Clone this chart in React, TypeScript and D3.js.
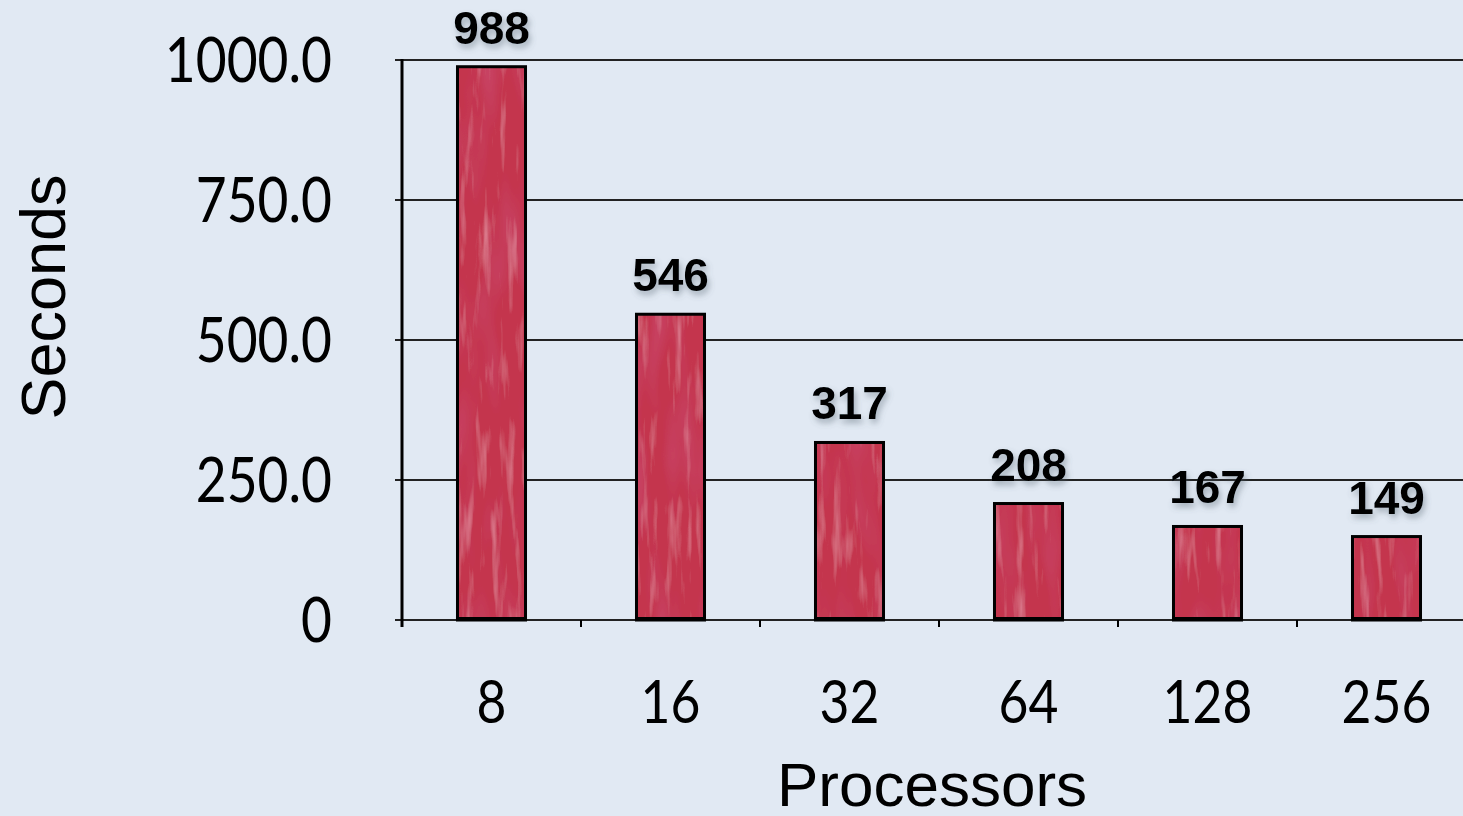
import React from "react";
import * as d3 from "d3";

// Run time (seconds) by processor count
const processors: string[] = ["8", "16", "32", "64", "128", "256"];
const seconds: number[] = [988, 546, 317, 208, 167, 149];
const yTicks: number[] = [0, 250, 500, 750, 1000];
const yTickLabels: string[] = ["0", "250.0", "500.0", "750.0", "1000.0"];

const W = 1463;
const H = 816;
const BG = "#e1e9f3";
const BAR = "#c4344e";
const INK = "#000";
const TICK_FONT = "Lato, 'Open Sans', sans-serif";
const SANS = "'Liberation Sans', Arial, Helvetica, sans-serif";

const plot = { left: 402, top: 60, bottom: 620, step: 179 };

export default function App() {
  const x = d3
    .scaleBand<string>()
    .domain(processors)
    .range([plot.left, plot.left + plot.step * processors.length])
    .paddingInner(0.62)
    .paddingOuter(0.31);
  const y = d3.scaleLinear().domain([0, 1000]).range([plot.bottom, plot.top]);
  const bw = x.bandwidth();
  const tickXs = d3.range(processors.length + 1).map((i) => plot.left + i * x.step());

  return (
    <div style={{ position: "fixed", inset: 0, background: BG }}>
      <svg width={W} height={H} style={{ display: "block" }}>
        <defs>
          {/* painted brush-stroke look for the bars */}
          <filter id="brush" x="0" y="0" width="1" height="1">
            <feTurbulence type="fractalNoise" baseFrequency="0.12 0.014" numOctaves="3" seed="7" result="n1" />
            <feColorMatrix
              in="n1"
              type="matrix"
              values="0 0 0 0 0.9  0 0 0 0 0.4  0 0 0 0 0.5  1.1 0 0 0 -0.6"
              result="light"
            />
            <feTurbulence type="fractalNoise" baseFrequency="0.04 0.01" numOctaves="2" seed="13" result="n2" />
            <feColorMatrix
              in="n2"
              type="matrix"
              values="0 0 0 0 0.6  0 0 0 0 0.08  0 0 0 0 0.18  1.1 0 0 0 -0.5"
              result="dark"
            />
            <feComposite in="dark" in2="SourceGraphic" operator="atop" result="d1" />
            <feComposite in="light" in2="d1" operator="atop" />
          </filter>
          <filter id="shadow" x="-20%" y="-30%" width="140%" height="170%">
            <feDropShadow dx="2" dy="4" stdDeviation="3" floodColor="#556070" floodOpacity="0.45" />
          </filter>
        </defs>

        <rect width={W} height={H} fill={BG} />

        {/* horizontal gridlines */}
        {yTicks.map((t) => (
          <line key={"g" + t} x1={plot.left - 7} x2={W} y1={y(t)} y2={y(t)} stroke="#222" strokeWidth={2} />
        ))}

        {/* y axis */}
        <line x1={plot.left} x2={plot.left} y1={plot.top - 1} y2={plot.bottom + 7} stroke={INK} strokeWidth={3} />

        {/* x axis ticks */}
        {tickXs.map((tx, i) => (
          <line key={"t" + i} x1={tx} x2={tx} y1={plot.bottom} y2={plot.bottom + 7} stroke={INK} strokeWidth={2} />
        ))}

        {/* bars */}
        {processors.map((p, i) => {
          const x0 = x(p)!;
          const y0 = y(seconds[i]);
          const h = y(0) - y0;
          return (
            <g key={"b" + p}>
              <rect x={x0} y={y0} width={bw} height={h} fill={BAR} filter="url(#brush)" />
              <rect x={x0} y={y0} width={bw} height={h} fill="none" stroke={INK} strokeWidth={3} />
              <line x1={x0 - 1.5} x2={x0 + bw + 1.5} y1={y(0) - 1} y2={y(0) - 1} stroke={INK} strokeWidth={4} />
            </g>
          );
        })}

        {/* value labels */}
        {processors.map((p, i) => (
          <text
            key={"v" + p}
            x={x(p)! + bw / 2}
            y={y(seconds[i]) - 23}
            textAnchor="middle"
            fontFamily={SANS}
            fontWeight="bold"
            fontSize={46}
            fill={INK}
            filter="url(#shadow)"
          >
            {seconds[i]}
          </text>
        ))}

        {/* y tick labels */}
        {yTicks.map((t, i) => (
          <g key={"yl" + t} transform={`translate(332,${y(t) + 22}) scale(0.86,1)`}>
            <text x={0} y={0} textAnchor="end" fontFamily={TICK_FONT} fontSize={62} fill={INK}>
              {yTickLabels[i]}
            </text>
          </g>
        ))}

        {/* x tick labels */}
        {processors.map((p) => (
          <g key={"xl" + p} transform={`translate(${x(p)! + bw / 2},723) scale(0.86,1)`}>
            <text x={0} y={0} textAnchor="middle" fontFamily={TICK_FONT} fontSize={60} fill={INK}>
              {p}
            </text>
          </g>
        ))}

        {/* axis titles */}
        <text
          transform="translate(65,297) rotate(-90)"
          textAnchor="middle"
          fontFamily={SANS}
          fontSize={63}
          fill={INK}
        >
          Seconds
        </text>
        <text x={932} y={806} textAnchor="middle" fontFamily={SANS} fontSize={62} fill={INK}>
          Processors
        </text>
      </svg>
    </div>
  );
}
